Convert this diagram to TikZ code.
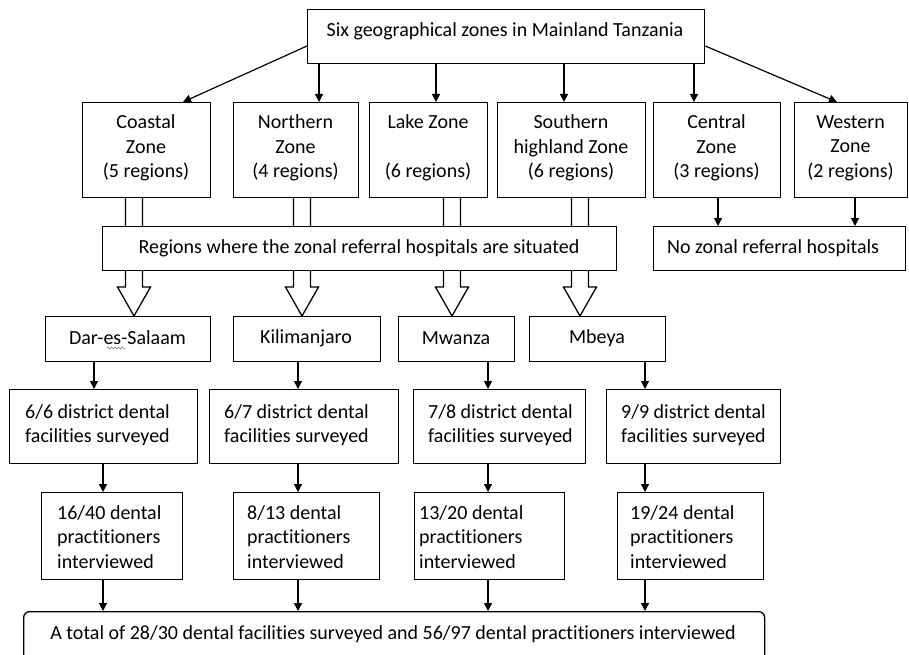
\documentclass[tikz,border=0pt]{standalone}
\usepackage{fontspec}
\setmainfont{Carlito}[Ligatures=NoCommon]
\usetikzlibrary{arrows.meta,calc,decorations.pathmorphing}
\begin{document}
\begin{tikzpicture}[x=1pt,y=-1pt,
  font=\fontsize{20}{24.5}\selectfont,
  box/.style={draw=black, line width=1.3pt, fill=white, inner sep=0pt, anchor=north west},
  txt/.style={inner sep=0pt, align=center},
  btxt/.style={inner sep=0pt, anchor=base},
  ltxt/.style={inner sep=0pt, align=left, anchor=west},
  arr/.style={line width=1.2pt, -{Triangle[length=8pt,width=8pt]}},
  blk/.style={draw=black, line width=1.3pt, fill=white, line join=miter}]
\useasboundingbox (0,0) rectangle (909,655);

% block arrows (drawn first, boxes cover their middle)
\foreach \c in {134,302,452,580}{
  \draw[blk] (\c-8.5,197) -- (\c-8.5,287) -- (\c-16.5,287) -- (\c,316)
    -- (\c+16.5,287) -- (\c+8.5,287) -- (\c+8.5,197);
}

% boxes
\node[box, minimum width=397pt, minimum height=54pt] (top) at (307,9) {};
\node[box, minimum width=128pt, minimum height=95pt] (coastal) at (82,102) {};
\node[box, minimum width=125pt, minimum height=95pt] (northern) at (233,102) {};
\node[box, minimum width=118pt, minimum height=95pt] (lake) at (369,102) {};
\node[box, minimum width=148pt, minimum height=95pt] (southern) at (497,102) {};
\node[box, minimum width=127pt, minimum height=95pt] (central) at (653,102) {};
\node[box, minimum width=113pt, minimum height=95pt] (western) at (794,102) {};
\node[box, minimum width=514pt, minimum height=44pt] (regions) at (102,226) {};
\node[box, minimum width=252pt, minimum height=44pt] (nozonal) at (653,226) {};
\node[box, minimum width=165pt, minimum height=45pt] (dar) at (45,316) {};
\node[box, minimum width=147pt, minimum height=45pt] (kili) at (233,316) {};
\node[box, minimum width=116pt, minimum height=45pt] (mwanza) at (398,316) {};
\node[box, minimum width=136pt, minimum height=45pt] (mbeya) at (529,316) {};
\node[box, minimum width=188pt, minimum height=74pt] (fdar) at (9,389) {};
\node[box, minimum width=189pt, minimum height=74pt] (fkili) at (209,389) {};
\node[box, minimum width=172pt, minimum height=74pt] (fmwanza) at (413,389) {};
\node[box, minimum width=174pt, minimum height=74pt] (fmbeya) at (606,389) {};
\node[box, minimum width=141pt, minimum height=87pt] (pdar) at (41,492) {};
\node[box, minimum width=146pt, minimum height=87pt] (pkili) at (233,492) {};
\node[box, minimum width=150pt, minimum height=87pt] (pmwanza) at (414,492) {};
\node[box, minimum width=146pt, minimum height=87pt] (pmbeya) at (617,492) {};
\node[box, rounded corners=6pt, minimum width=741pt, minimum height=62pt] (total) at (23,611) {};

% texts
\node[txt] (ttop) at (505,31) {Six geographical zones in Mainland Tanzania};
\node[txt] (tcoastal) at (146,148) {Coastal\\Zone\\(5 regions)};
\node[txt] (tnorthern) at (295.5,148) {Northern\\Zone\\(4 regions)};
\node[txt] (tlake) at (428,148) {Lake Zone\\\mbox{}\\(6 regions)};
\node[txt] (tsouthern) at (571,148) {Southern\\highland Zone\\(6 regions)};
\node[txt] (tcentral) at (716.5,148) {Central\\Zone\\(3 regions)};
\node[txt] (twestern) at (850.5,148) {Western\\Zone\\(2 regions)};
\node[txt] (tregions) at (359,248) {Regions where the zonal referral hospitals are situated};
\node[ltxt] (tnozonal) at (667,248) {No zonal referral hospitals};
\node[btxt] (tdar) at (127.5,344) {Dar-es-Salaam};
\node[btxt] (tkili) at (306,343) {Kilimanjaro};
\node[btxt] (tmwanza) at (456,344) {Mwanza};
\node[btxt] (tmbeya) at (597,343) {Mbeya};
\node[ltxt] (tfdar) at (25,425) {6/6 district dental\\facilities surveyed};
\node[ltxt] (tfkili) at (224,425) {6/7 district dental\\facilities surveyed};
\node[ltxt] (tfmwanza) at (428,425) {7/8 district dental\\facilities surveyed};
\node[ltxt] (tfmbeya) at (621,425) {9/9 district dental\\facilities surveyed};
\node[ltxt] (tpdar) at (57,537) {16/40 dental\\practitioners\\interviewed};
\node[ltxt] (tpkili) at (247,537) {8/13 dental\\practitioners\\interviewed};
\node[ltxt] (tpmwanza) at (419,537) {13/20 dental\\practitioners\\interviewed};
\node[ltxt] (tpmbeya) at (630,537) {19/24 dental\\practitioners\\interviewed};
\node[txt] (ttotal) at (393,634) {A total of 28/30 dental facilities surveyed and 56/97 dental practitioners interviewed};

% spell-check squiggle
\draw[gray, line width=0.6pt, decorate, decoration={snake, amplitude=1.1pt, segment length=3.5pt}] (107,348) -- (125,348);

% column coordinates
\coordinate (cN) at (319,0);
\coordinate (cL) at (436,0);
\coordinate (cS) at (564,0);
\coordinate (cC) at (694,0);
\coordinate (cCz) at (718,0);
\coordinate (cWz) at (855,0);
\coordinate (k1) at (94,0);
\coordinate (k2) at (103,0);
\coordinate (k3) at (298,0);
\coordinate (k4) at (488,0);
\coordinate (k5) at (645,0);

% connectors from the top box
\draw[arr] ($(top.north west)+(0,37)$) -- ($(coastal.north west)+(101,0)$);
\draw[arr] (cN |- top.south) -- (cN |- northern.north);
\draw[arr] (cL |- top.south) -- (cL |- lake.north);
\draw[arr] (cS |- top.south) -- (cS |- southern.north);
\draw[arr] (cC |- top.south) -- (cC |- central.north);
\draw[arr] ($(top.north east)+(0,37)$) -- ($(western.north west)+(43,0)$);

\draw[arr] (cCz |- central.south) -- (cCz |- nozonal.north);
\draw[arr] (cWz |- western.south) -- (cWz |- nozonal.north);

% regions -> facilities
\draw[arr] (k1 |- dar.south) -- (k1 |- fdar.north);
\draw[arr] (k3 |- kili.south) -- (k3 |- fkili.north);
\draw[arr] (k4 |- mwanza.south) -- (k4 |- fmwanza.north);
\draw[arr] (k5 |- mbeya.south) -- (k5 |- fmbeya.north);

% facilities -> practitioners
\draw[arr] (k2 |- fdar.south) -- (k2 |- pdar.north);
\draw[arr] (k3 |- fkili.south) -- (k3 |- pkili.north);
\draw[arr] (k4 |- fmwanza.south) -- (k4 |- pmwanza.north);
\draw[arr] (k5 |- fmbeya.south) -- (k5 |- pmbeya.north);

% practitioners -> total
\draw[arr] (k2 |- pdar.south) -- (k2 |- total.north);
\draw[arr] (k3 |- pkili.south) -- (k3 |- total.north);
\draw[arr] (k4 |- pmwanza.south) -- (k4 |- total.north);
\draw[arr] (k5 |- pmbeya.south) -- (k5 |- total.north);
\end{tikzpicture}
\end{document}
